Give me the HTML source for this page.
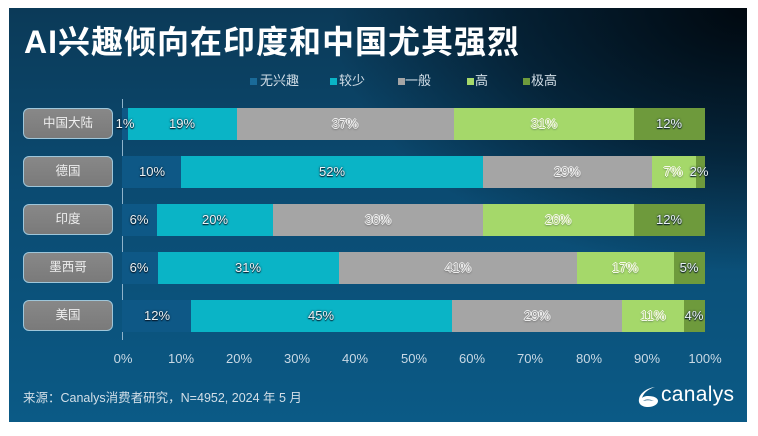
<!DOCTYPE html>
<html><head><meta charset="utf-8">
<style>
html,body{margin:0;padding:0;background:#fff;}
body{width:758px;height:436px;position:relative;overflow:hidden;font-family:"Liberation Sans","Noto Sans CJK SC",sans-serif;}
#panel{position:absolute;left:9px;top:8px;width:738px;height:414px;
background:
radial-gradient(ellipse 520px 330px at 100% 0%, rgba(0,6,12,0.95) 0%, rgba(0,10,20,0.55) 45%, rgba(0,0,0,0) 80%),
linear-gradient(180deg,#0b3a58 0%,#0b4b72 45%,#0b5a86 100%);}
.abs{position:absolute;}
.title{left:24px;top:23px;font-size:32px;letter-spacing:1px;font-weight:bold;color:#fff;white-space:nowrap;line-height:38px;font-family:"Liberation Sans","Noto Sans CJK SC",sans-serif;}
.leg{top:73px;font-size:13px;color:#d3dfe8;line-height:16px;white-space:nowrap;}
.sq{position:absolute;width:7px;height:7px;}
.btn{left:23px;width:88px;height:29px;border:1.5px solid #9ec6da;border-radius:6px;background:linear-gradient(180deg,#888 0%,#7a7a7a 100%);color:#eee;font-size:12.5px;text-align:center;line-height:29px;}
.seg{position:absolute;height:32px;}
.v{position:absolute;font-size:13px;line-height:32px;text-align:center;white-space:nowrap;transform:translateX(-50%);}
.w{color:#eaf3f6;text-shadow:0 0 2px #123,0 1px 1px #012;}
.g{color:#9a9a9a;text-shadow:-1px 0 0 #eee,1px 0 0 #eee,0 -1px 0 #eee,0 1px 0 #eee,0 1px 2px #333;}
.lg{color:#a8d070;text-shadow:-1px 0 0 #f4f8e8,1px 0 0 #f4f8e8,0 -1px 0 #f4f8e8,0 1px 0 #f4f8e8,0 1px 2px #234;}
.tick{top:351px;font-size:13px;color:#c9d9e5;line-height:16px;transform:translateX(-50%);white-space:nowrap;}
</style></head><body>
<div id="panel"></div>
<div class="abs title">AI兴趣倾向在印度和中国尤其强烈</div>

<div class="sq" style="left:250px;top:78px;background:#1a6a98;"></div><div class="abs leg" style="left:260px;">无兴趣</div>
<div class="sq" style="left:330px;top:78px;background:#0ab4c6;"></div><div class="abs leg" style="left:339px;">较少</div>
<div class="sq" style="left:398px;top:78px;background:#a5a5a5;"></div><div class="abs leg" style="left:405px;">一般</div>
<div class="sq" style="left:467px;top:78px;background:#a5d86a;"></div><div class="abs leg" style="left:475px;">高</div>
<div class="sq" style="left:523px;top:78px;background:#6e9a3c;"></div><div class="abs leg" style="left:531px;">极高</div>

<div class="abs" style="left:122px;top:99px;width:1px;height:241px;background:#8fb3cb;"></div>

<!-- China -->
<div class="abs btn" style="top:108px;">中国大陆</div>
<div class="seg" style="top:108px;left:122px;width:6px;background:#0e5886;"></div>
<div class="seg" style="top:108px;left:128px;width:109px;background:#0ab4c6;"></div>
<div class="seg" style="top:108px;left:237px;width:217px;background:#a5a5a5;"></div>
<div class="seg" style="top:108px;left:454px;width:180px;background:#a5d86a;"></div>
<div class="seg" style="top:108px;left:634px;width:71px;background:#6e9a3c;"></div>
<div class="v w" style="top:108px;left:125px;">1%</div>
<div class="v w" style="top:108px;left:182px;">19%</div>
<div class="v g" style="top:108px;left:345px;">37%</div>
<div class="v lg" style="top:108px;left:544px;">31%</div>
<div class="v w" style="top:108px;left:669px;">12%</div>

<!-- Germany -->
<div class="abs btn" style="top:156px;">德国</div>
<div class="seg" style="top:156px;left:122px;width:59px;background:#0e5886;"></div>
<div class="seg" style="top:156px;left:181px;width:302px;background:#0ab4c6;"></div>
<div class="seg" style="top:156px;left:483px;width:169px;background:#a5a5a5;"></div>
<div class="seg" style="top:156px;left:652px;width:44px;background:#a5d86a;"></div>
<div class="seg" style="top:156px;left:696px;width:9px;background:#6e9a3c;"></div>
<div class="v w" style="top:156px;left:152px;">10%</div>
<div class="v w" style="top:156px;left:332px;">52%</div>
<div class="v g" style="top:156px;left:567px;">29%</div>
<div class="v lg" style="top:156px;left:673px;">7%</div>
<div class="v w" style="top:156px;left:699px;">2%</div>

<!-- India -->
<div class="abs btn" style="top:204px;">印度</div>
<div class="seg" style="top:204px;left:122px;width:35px;background:#0e5886;"></div>
<div class="seg" style="top:204px;left:157px;width:116px;background:#0ab4c6;"></div>
<div class="seg" style="top:204px;left:273px;width:210px;background:#a5a5a5;"></div>
<div class="seg" style="top:204px;left:483px;width:151px;background:#a5d86a;"></div>
<div class="seg" style="top:204px;left:634px;width:71px;background:#6e9a3c;"></div>
<div class="v w" style="top:204px;left:139px;">6%</div>
<div class="v w" style="top:204px;left:215px;">20%</div>
<div class="v g" style="top:204px;left:378px;">36%</div>
<div class="v lg" style="top:204px;left:558px;">26%</div>
<div class="v w" style="top:204px;left:669px;">12%</div>

<!-- Mexico -->
<div class="abs btn" style="top:252px;">墨西哥</div>
<div class="seg" style="top:252px;left:122px;width:36px;background:#0e5886;"></div>
<div class="seg" style="top:252px;left:158px;width:181px;background:#0ab4c6;"></div>
<div class="seg" style="top:252px;left:339px;width:238px;background:#a5a5a5;"></div>
<div class="seg" style="top:252px;left:577px;width:97px;background:#a5d86a;"></div>
<div class="seg" style="top:252px;left:674px;width:31px;background:#6e9a3c;"></div>
<div class="v w" style="top:252px;left:139px;">6%</div>
<div class="v w" style="top:252px;left:248px;">31%</div>
<div class="v g" style="top:252px;left:458px;">41%</div>
<div class="v lg" style="top:252px;left:625px;">17%</div>
<div class="v w" style="top:252px;left:689px;">5%</div>

<!-- USA -->
<div class="abs btn" style="top:300px;">美国</div>
<div class="seg" style="top:300px;left:122px;width:69px;background:#0e5886;"></div>
<div class="seg" style="top:300px;left:191px;width:261px;background:#0ab4c6;"></div>
<div class="seg" style="top:300px;left:452px;width:170px;background:#a5a5a5;"></div>
<div class="seg" style="top:300px;left:622px;width:62px;background:#a5d86a;"></div>
<div class="seg" style="top:300px;left:684px;width:21px;background:#6e9a3c;"></div>
<div class="v w" style="top:300px;left:157px;">12%</div>
<div class="v w" style="top:300px;left:321px;">45%</div>
<div class="v g" style="top:300px;left:537px;">29%</div>
<div class="v lg" style="top:300px;left:653px;">11%</div>
<div class="v w" style="top:300px;left:694px;">4%</div>

<div class="abs tick" style="left:123px;">0%</div>
<div class="abs tick" style="left:181px;">10%</div>
<div class="abs tick" style="left:239px;">20%</div>
<div class="abs tick" style="left:297px;">30%</div>
<div class="abs tick" style="left:355px;">40%</div>
<div class="abs tick" style="left:414px;">50%</div>
<div class="abs tick" style="left:472px;">60%</div>
<div class="abs tick" style="left:530px;">70%</div>
<div class="abs tick" style="left:589px;">80%</div>
<div class="abs tick" style="left:647px;">90%</div>
<div class="abs tick" style="left:705px;">100%</div>

<div class="abs" style="left:23px;top:390px;font-size:12.5px;color:#d3dfe8;line-height:16px;white-space:nowrap;">来源：Canalys消费者研究，N=4952, 2024 年 5 月</div>

<svg class="abs" style="left:637px;top:386px;" width="24" height="22" viewBox="0 0 24 22">
<path d="M18 1 C10 2 3 7 2 13 C1 18 5 21 11 21 C17 21 21 18 21 15 C21 12 17 10 11 10 C8 10 6 11 5 12 C7 6 12 3 18 1 Z" fill="#fff"/>
<path d="M6 15 C8 13 13 13 17 15 C13 14 9 14 6 15 Z" fill="#0b4e74"/>
</svg>
<div class="abs" style="left:661px;top:383px;font-size:21px;color:#fff;line-height:24px;letter-spacing:0.3px;">canalys</div>
</body></html>
